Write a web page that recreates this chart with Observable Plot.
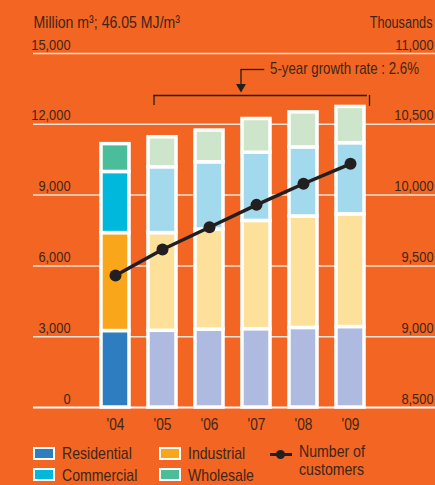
<!DOCTYPE html>
<html><head><meta charset="utf-8">
<script src="https://cdn.jsdelivr.net/npm/d3@7"></script>
<script src="https://cdn.jsdelivr.net/npm/@observablehq/plot@0.6"></script>
<style>
html,body{margin:0;padding:0;background:#F26522;}
body{width:435px;height:485px;overflow:hidden;font-family:"Liberation Sans",Arial,sans-serif;color:#3f2618;}
#chart svg{display:block;}
#legend{position:relative;width:435px;height:45px;font-size:17px;}
.sw{position:absolute;width:18px;height:9px;border:2px solid #fff;}
.lab{position:absolute;line-height:1;white-space:nowrap;transform:scaleX(0.83);transform-origin:0 0;}
</style></head><body>
<div id="chart"></div>
<div id="legend"></div>
<script>
const years = ["'04", "'05", "'06", "'07", "'08", "'09"];
const categories = ["Residential", "Industrial", "Commercial", "Wholesale"];
const residential = [3240, 3250, 3300, 3320, 3370, 3410];
const industrial  = [4150, 4140, 4240, 4585, 4725, 4775];
const commercial  = [2590, 2790, 2850, 2890, 2925, 3015];
const wholesale   = [1180, 1270, 1345, 1430, 1485, 1535];
const customers   = [9432, 9616, 9773, 9931, 10080, 10221];
const leftTicks  = [0, 3000, 6000, 9000, 12000, 15000];
const rightTicks = [8500, 9000, 9500, 10000, 10500, 11000];
const strongColors = ["#2e7dc1", "#f9a61a", "#00b7dc", "#4cbd9a"];
const paleColors   = ["#aebadf", "#fde099", "#a3d9ec", "#cde6cb"];
const titleLeft = "Million m³; 46.05 MJ/m³";
const titleRight = "Thousands";
const growthNote = "5-year growth rate : 2.6%";

const TEXT = "#3f2618";
const DARK = "#231f20";
const FONT = '"Liberation Sans",Arial,sans-serif';

const series = [residential, industrial, commercial, wholesale];
const bars = years.flatMap((yr, i) => categories.map((c, j) => ({
  year: yr, category: c, value: series[j][i], color: (i === 0 ? strongColors : paleColors)[j]
})));
const cust = years.map((yr, i) => ({year: yr, value: customers[i]}));
const toLeft = v => (v - 8500) * 6;
const fmt = d3.format(",");

const chart = Plot.plot({
  width: 435, height: 440,
  marginTop: 53, marginBottom: 33, marginLeft: 33, marginRight: 0,
  style: {background: "transparent", fontFamily: FONT, color: TEXT, fontSize: "15px", overflow: "visible"},
  x: {domain: years, paddingInner: 0.4, paddingOuter: 1.42, align: 0.493, axis: null},
  y: {domain: [0, 15000], axis: null},
  color: {type: "identity"},
  marks: [
    Plot.ruleY(leftTicks.filter(d => d > 0), {stroke: "#fbe1d3", strokeWidth: 1.5}),
    Plot.ruleY([0], {stroke: "#ffffff", strokeWidth: 2}),
    Plot.text(leftTicks, {y: d => d, text: d => fmt(d), frameAnchor: "left", textAnchor: "end", dx: 37, lineAnchor: "bottom", dy: -4, fill: TEXT, fontSize: 15.5}),
    Plot.text(rightTicks, {y: d => toLeft(d), text: d => fmt(d), frameAnchor: "right", textAnchor: "end", dx: -2, lineAnchor: "bottom", dy: -4, fill: TEXT, fontSize: 15.5}),
    Plot.text([titleLeft], {text: d => d, frameAnchor: "top-left", textAnchor: "start", lineAnchor: "bottom", dy: -26, fill: TEXT, fontSize: 17}),
    Plot.text([titleRight], {text: d => d, frameAnchor: "top-right", textAnchor: "end", lineAnchor: "bottom", dx: -3, dy: -26, fill: TEXT, fontSize: 16.5}),
    Plot.barY(bars, {x: "year", y: "value", z: "category", order: categories, fill: "color", stroke: "#ffffff", strokeWidth: 3.5}),
    Plot.line(cust, {x: "year", y: d => toLeft(d.value), stroke: DARK, strokeWidth: 3.5}),
    Plot.dot(cust, {x: "year", y: d => toLeft(d.value), r: 6, fill: DARK}),
    Plot.axisX({tickSize: 0, tickPadding: 11, fontSize: 16.5, fill: TEXT, label: null}),
    // annotation: bracket over '05–'09
    Plot.ruleY([13220], {x1: () => "'05", x2: () => "'09", insetLeft: 5.5, insetRight: -3, stroke: DARK, strokeWidth: 1.3}),
    Plot.ruleX(["'05"], {x: d => d, y1: () => 13220, y2: () => 12800, dx: -8.5, stroke: DARK, strokeWidth: 1.3}),
    Plot.ruleX(["'09"], {x: d => d, y1: () => 13220, y2: () => 12760, dx: 19, stroke: DARK, strokeWidth: 1.3}),
    // arrow
    Plot.ruleY([14322], {x1: () => "'07", x2: () => "'07", insetLeft: -1.25, insetRight: 5.75, stroke: DARK, strokeWidth: 1.3}),
    Plot.ruleX(["'07"], {x: d => d, y1: () => 14322, y2: () => 13620, dx: -15.5, stroke: DARK, strokeWidth: 1.3}),
    Plot.dot(["'07"], {x: d => d, y: () => 13590, symbol: "triangle", r: 3.7, rotate: 180, fill: DARK, stroke: "none", dx: -15.5}),
    Plot.text(["'07"], {x: d => d, y: () => 14322, text: () => growthNote, textAnchor: "start", dx: 13.5, dy: -1, fill: TEXT, fontSize: 16})
  ]
});
document.getElementById("chart").appendChild(chart);

// emulate a narrow (condensed) face: compress each text horizontally about its anchor
chart.querySelectorAll("text").forEach(t => {
  const anchor = getComputedStyle(t).textAnchor;
  const b = t.getBBox();
  const ox = anchor === "end" ? b.x + b.width : anchor === "middle" ? b.x + b.width / 2 : b.x;
  const factor = t.textContent === titleRight ? 0.77 : 0.83;
  const prev = t.getAttribute("transform") || "";
  t.setAttribute("transform", `${prev} translate(${ox},0) scale(${factor},1) translate(${-ox},0)`.trim());
});

// legend
const legend = document.getElementById("legend");
const items = [
  {label: categories[0], color: strongColors[0], x: 33, row: 0},
  {label: categories[2], color: strongColors[2], x: 33, row: 1},
  {label: categories[1], color: strongColors[1], x: 158.7, row: 0},
  {label: categories[3], color: strongColors[3], x: 158.7, row: 1}
];
const rowSwTop = [6.7, 28], rowTxtTop = [4.6, 27.3];
for (const it of items) {
  const sw = document.createElement("div");
  sw.className = "sw";
  sw.style.left = it.x + "px"; sw.style.top = rowSwTop[it.row] + "px"; sw.style.background = it.color;
  legend.appendChild(sw);
  const t = document.createElement("div");
  t.className = "lab"; t.textContent = it.label;
  t.style.left = (it.x + 29) + "px"; t.style.top = rowTxtTop[it.row] + "px";
  legend.appendChild(t);
}
const ln = document.createElement("div");
ln.style.cssText = `position:absolute;left:270px;top:12.8px;width:22px;height:3px;background:${DARK};`;
legend.appendChild(ln);
const dt = document.createElement("div");
dt.style.cssText = `position:absolute;left:276.2px;top:9.8px;width:9px;height:9px;border-radius:50%;background:${DARK};`;
legend.appendChild(dt);
const ct = document.createElement("div");
ct.className = "lab"; ct.style.left = "299px"; ct.style.lineHeight = "18px";
ct.style.top = "2.8px";
ct.innerHTML = "Number of<br>customers";
legend.appendChild(ct);
</script></body></html>
